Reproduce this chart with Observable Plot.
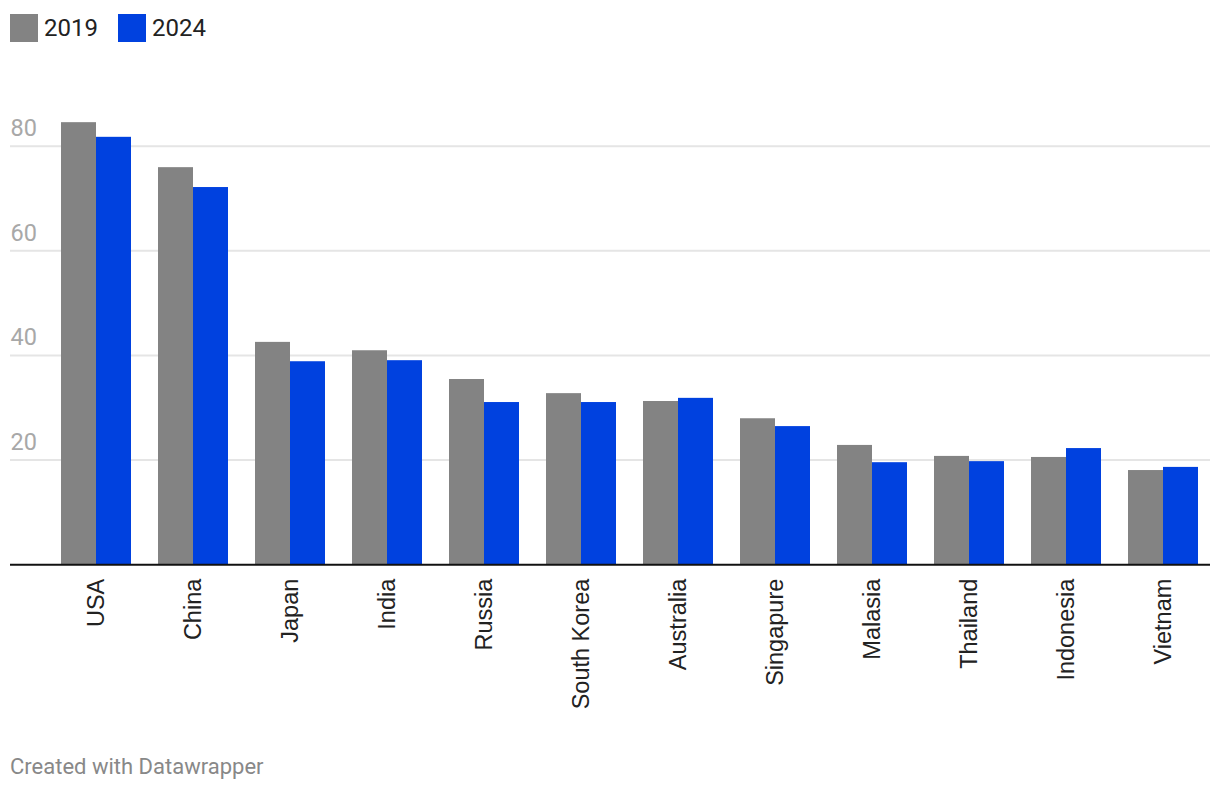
<!DOCTYPE html>
<html>
<head>
<meta charset="utf-8">
<script src="https://cdn.jsdelivr.net/npm/d3@7"></script>
<script src="https://cdn.jsdelivr.net/npm/@observablehq/plot@0.6"></script>
<style>
  body { margin: 0; background: #fff; font-family: Roboto, sans-serif; }
  #legend { height: 52px; box-sizing: border-box; padding: 14px 0 0 10px; display: flex; align-items: flex-start; }
  .item { display: flex; align-items: center; height: 28px; margin-right: 20px; }
  .sw { width: 28px; height: 28px; margin-right: 6px; }
  .lab { font-size: 24px; color: #222; line-height: 28px; }
  #chart svg { display: block; }
  #caption { margin-top: 3px; padding-left: 10px; font-size: 22px; line-height: 24px; color: #888; }
</style>
</head>
<body>
<div id="legend"></div>
<div id="chart"></div>
<div id="caption">Created with Datawrapper</div>
<script>
const countries = ["USA", "China", "Japan", "India", "Russia", "South Korea", "Australia", "Singapure", "Malasia", "Thailand", "Indonesia", "Vietnam"];
const years = ["2019", "2024"];
const values2019 = [84.5, 75.9, 42.5, 40.9, 35.4, 32.7, 31.2, 27.9, 22.8, 20.7, 20.5, 18.0];
const values2024 = [81.7, 72.1, 38.8, 39.0, 31.0, 31.0, 31.8, 26.4, 19.5, 19.7, 22.2, 18.6];
const yTicks = [20, 40, 60, 80];
const colors = ["#838383", "#0041df"];

const data = countries.flatMap((c, i) => [
  {country: c, year: years[0], value: values2019[i]},
  {country: c, year: years[1], value: values2024[i]}
]);

// legend
const legend = document.getElementById("legend");
years.forEach((y, i) => {
  const it = document.createElement("div");
  it.className = "item";
  it.innerHTML = `<div class="sw" style="background:${colors[i]}"></div><div class="lab">${y}</div>`;
  legend.appendChild(it);
});

const half = 35; // half of the group width (bandwidth 70px)

const chart = Plot.plot({
  width: 1220,
  height: 700,
  marginTop: 41.4,
  marginBottom: 187.8,
  marginLeft: 10,
  marginRight: 10,
  style: {fontFamily: "Roboto, sans-serif", background: "transparent"},
  x: {domain: countries, paddingInner: 27 / 97, paddingOuter: 0.32474, align: 0.8095, label: null},
  y: {domain: [0, 90], axis: null},
  color: {domain: years, range: colors},
  marks: [
    Plot.ruleY(yTicks, {y: d => d, stroke: "#e5e5e5", strokeWidth: 2}),
    Plot.text(yTicks, {y: d => d, text: d => String(d), frameAnchor: "left", textAnchor: "start", lineAnchor: "bottom", dx: 0, dy: -10, fill: "#a8a8a8", fontSize: 23.5}),
    Plot.barY(data, {filter: d => d.year === years[0], x: "country", y: "value", fill: "year", insetRight: half}),
    Plot.barY(data, {filter: d => d.year === years[1], x: "country", y: "value", fill: "year", insetLeft: half}),
    Plot.ruleY([0], {stroke: "#111", strokeWidth: 2}),
    Plot.axisX({anchor: "bottom", tickSize: 0, tickPadding: 14, tickRotate: -90, fontSize: 23.5, fontFamily: "'Liberation Sans', Arial, sans-serif", fill: "#222", label: null})
  ]
});
document.getElementById("chart").appendChild(chart);
</script>
</body>
</html>
